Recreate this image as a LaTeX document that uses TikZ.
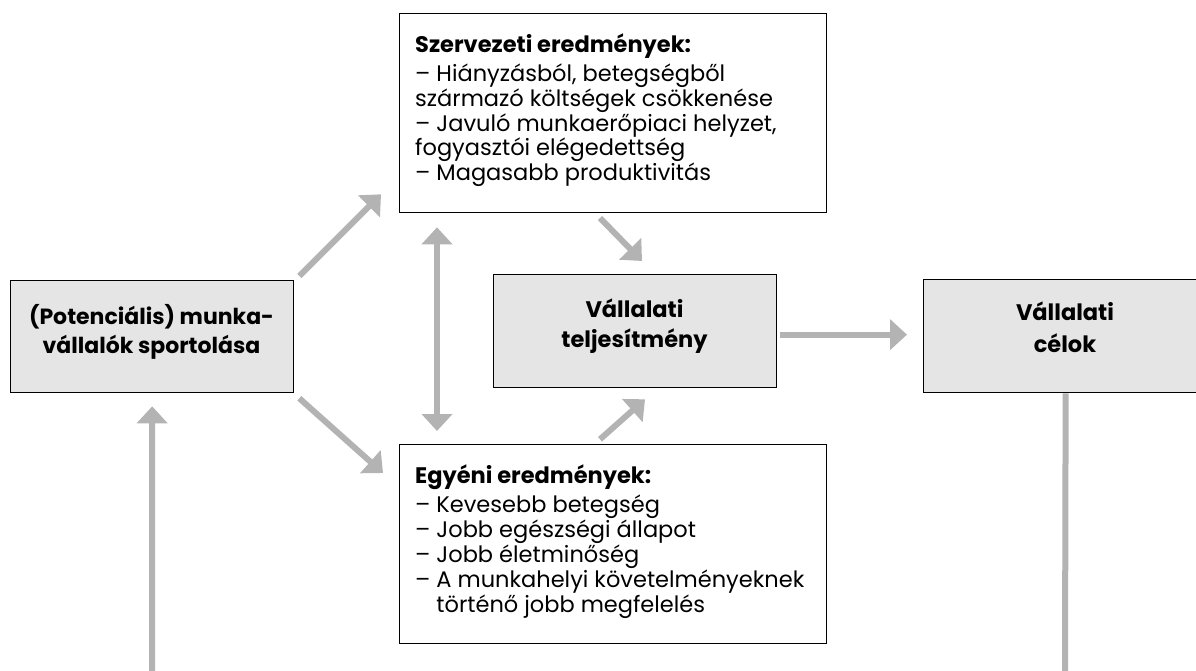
\documentclass[tikz,border=0pt]{standalone}
\usepackage{fontspec}
\setmainfont{Poppins}
\usetikzlibrary{arrows.meta,calc}
\definecolor{boxgray}{HTML}{E5E5E5}
\definecolor{arrgray}{HTML}{B3B3B3}
\newlength\dashw
\tikzset{
  gbox/.style={draw=black, line width=1.3pt, fill=boxgray, inner sep=0pt, anchor=north west},
  wbox/.style={draw=black, line width=1.3pt, fill=white, inner sep=0pt, anchor=north west},
  txt/.style={inner sep=0pt, anchor=base},
  ltxt/.style={inner sep=0pt, anchor=base west},
  garrow/.style={draw=arrgray, line width=6pt, -{Triangle[width=30pt,length=17pt]}},
  gdarrow/.style={draw=arrgray, line width=6pt, {Triangle[width=30pt,length=17pt]}-{Triangle[width=30pt,length=17pt]}},
  gline/.style={draw=arrgray, line width=6pt}
}
\begin{document}
\begin{tikzpicture}[x=1pt,y=-1pt]
\useasboundingbox (0,0) rectangle (1196,671);
% boxes
\node[gbox, minimum width=283pt, minimum height=112pt] (L) at (10,280) {};
\node[wbox, minimum width=427pt, minimum height=199pt] (T) at (399,13) {};
\node[gbox, minimum width=283pt, minimum height=113pt] (M) at (493,274) {};
\node[gbox, minimum width=284pt, minimum height=113pt] (R) at (923,279) {};
\node[wbox, minimum width=427pt, minimum height=199pt] (B) at (399,444) {};
% texts
\node[txt] (Ltext) at (151.5,324) {\parbox[t]{280pt}{\centering\fontsize{22}{29}\selectfont\bfseries (Potenciális) munka-\\vállalók sportolása}};
\node[txt] (Mtext) at (634.5,317) {\parbox[t]{280pt}{\centering\fontsize{22.5}{30}\selectfont\bfseries Vállalati\\teljesítmény}};
\node[txt] (Rtext) at (1065,320) {\parbox[t]{280pt}{\centering\fontsize{22.5}{32}\selectfont\bfseries Vállalati\\célok}};
\node[ltxt] (Ttext) at (415,53) {\parbox[t]{410pt}{\raggedright\fontsize{22.5}{23}\selectfont
{\bfseries Szervezeti eredmények:}\\[4pt]
– Hiányzásból, betegségből\\
származó költségek csökkenése\\
– Javuló munkaerőpiaci helyzet,\\
fogyasztói elégedettség\\
– Magasabb produktivitás}};
\node[ltxt] (Btext) at (415,483) {\parbox[t]{420pt}{\raggedright\fontsize{22.5}{25}\selectfont\settowidth\dashw{– }%
{\bfseries Egyéni eredmények:}\\[4pt]
– Kevesebb betegség\\
– Jobb egészségi állapot\\
– Jobb életminőség\\
– A munkahelyi követelményeknek\\
\hspace*{\dashw}történő jobb megfelelés}};
% free ends
\coordinate (lb) at (152,671);
\coordinate (rb) at (1065,671);
% arrows
\draw[garrow] ($(L.north east)+(5,-4)$) -- ($(T.south west)+(-18,-19)$);
\draw[garrow] ($(L.south east)+(5,5)$) -- ($(B.north west)+(-16,29)$);
\draw[gdarrow] ($(T.south west)+(38,14)$) -- ($(B.north west)+(38,-13)$);
\draw[garrow] ($(M.north west)+(107,-56)$) -- ($(M.north west)+(149,-13)$);
\draw[garrow] ($(M.south west)+(107,51)$) -- ($(M.south west)+(152,11)$);
\draw[garrow] ($(M.east)+(3,3.5)$) -- ($(R.west)+(-16,-1.5)$);
\draw[gline] (R.south) -- (rb);
\draw[garrow] (lb) -- ($(L.south)+(0,13)$);
\end{tikzpicture}
\end{document}
